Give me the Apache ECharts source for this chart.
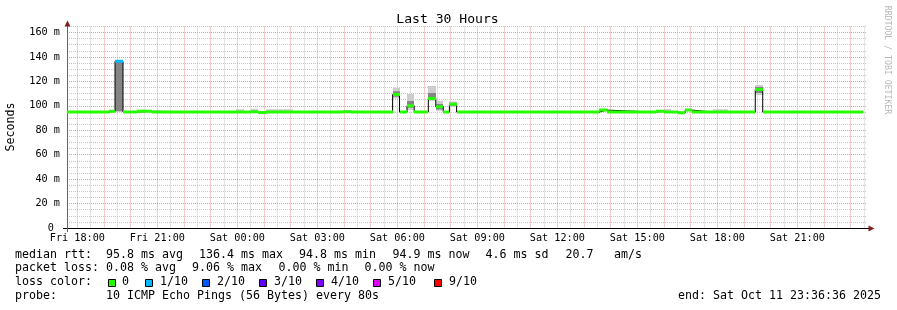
<!DOCTYPE html>
<html><head><meta charset="utf-8">
<script src="https://cdn.jsdelivr.net/npm/echarts@6/dist/echarts.min.js"></script>
<style>html,body{margin:0;padding:0;background:#fff}#c{width:897px;height:310px}</style>
</head><body><div id="c"></div>
<script>
// x values are hours since Fri 00:00
const axisStart = 17.61;   // Fri 17:36:36
const axisEnd = 47.61;     // Sat 23:36:36
const xLabelHours = [18, 21, 24, 27, 30, 33, 36, 39, 42, 45];
const yMax = 165;

// median RTT step segments (ms)
const segStart = [17.61, 19.185, 19.41, 19.71, 20.235, 20.80, 23.95, 24.25, 24.51, 24.77, 25.07, 26.085, 27.96, 28.26,
  29.82, 30.08, 30.36, 30.63, 31.16, 31.44, 31.72, 31.95, 32.22, 37.57, 37.85, 39.70, 40.00, 40.26, 40.52, 40.79,
  41.04, 41.835, 42.40, 43.42, 43.70];
const dataEnd = 47.46;
const median = [94.9, 95.5, 136.4, 94.9, 95.5, 94.9, 94.9, 94.9, 95.1, 94.6, 94.9, 94.9, 95.2, 94.9,
  109.3, 94.9, 100.1, 94.9, 106.0, 99.3, 94.9, 101.2, 94.9, 96.5, 94.9, 95.6, 94.9, 94.9, 94.4, 96.5,
  94.9, 94.9, 94.9, 113.4, 94.9];
const lossCount = [0, 0, 1, 0, 0, 0, 0, 0, 0, 0, 0, 0, 0, 0,
  0, 0, 0, 0, 0, 0, 0, 0, 0, 0, 0, 0, 0, 0, 0, 0,
  0, 0, 0, 0, 0];
// smoke (spread of the individual pings)
const smokeLo = [94.5, 95.0, 95.2, 94.5, 95.0, 94.5, 94.5, 94.5, 94.7, 94.3, 94.5, 94.5, 94.8, 94.5,
  106.0, 94.5, 96.5, 94.5, 104.0, 96.0, 94.5, 99.0, 94.5, 95.8, 94.5, 95.2, 94.5, 94.5, 94.1, 95.8,
  94.5, 94.5, 94.5, 108.9, 94.5];
const smokeHi = [95.3, 95.9, 137.0, 95.3, 95.9, 95.3, 97.2, 95.3, 97.6, 95.0, 97.1, 95.3, 96.6, 95.3,
  114.8, 95.3, 109.7, 95.3, 116.2, 104.2, 95.3, 103.6, 95.3, 97.0, 95.3, 96.0, 97.4, 95.3, 94.8, 97.6,
  95.3, 97.1, 95.3, 117.0, 95.3];
const coreLo = [null, null, 95.6, null, null, null, null, null, null, null, null, null, null, null,
  107.5, null, 98.5, null, 104.8, 97.0, null, 100.0, null, null, null, null, null, null, null, null,
  null, null, null, 110.5, null];
const coreHi = [null, null, 136.4, null, null, null, null, null, null, null, null, null, null, null,
  112.0, null, 104.0, null, 110.5, 101.5, null, 102.5, null, null, null, null, null, null, null, null,
  null, null, null, 115.5, null];

const lossColors = {0: '#26ff00', 1: '#00b8ff', 2: '#0059ff', 3: '#5e00ff', 4: '#7e00ff', 5: '#dd00ff', 9: '#ff0000'};
const lossLegend = ['0', '1/10', '2/10', '3/10', '4/10', '5/10', '9/10'];
const lossLegendKeys = [0, 1, 2, 3, 4, 5, 9];

const mono = '"DejaVu Sans Mono", monospace';
const segEnd = i => (i + 1 < segStart.length ? segStart[i + 1] : dataEnd);

const smokeData = segStart.map((t, i) => [t, segEnd(i), smokeLo[i], smokeHi[i], coreLo[i], coreHi[i]]);
const medData = segStart.map((t, i) => [t, segEnd(i), median[i], lossCount[i]]);
const stepData = segStart.map((t, i) => [t, median[i]]).concat([[dataEnd, median[median.length - 1]]]);

const vGrid = [];
for (let h = 18; h < axisEnd; h += 0.5) vGrid.push([h, 0, h % 1 === 0 ? 1 : 0]);

function dayLabel(h) {
  const d = h < 24 ? 'Fri' : 'Sat';
  const hh = Math.round(h % 24);
  return d + ' ' + (hh < 10 ? '0' : '') + hh + ':00';
}

function txt(str, x, y, size, o) {
  o = o || {};
  return {type: 'text', x: x, y: y, rotation: o.rot || 0, silent: true, z: 100,
    style: {text: str, fontFamily: mono, fontSize: size, fill: o.fill || '#000',
      align: o.align || 'left', verticalAlign: 'middle'}};
}

const LS = 11.63;
const graphics = [
  txt('Last 30 Hours', 447.5, 19.5, 13.1, {align: 'center'}),
  txt('Seconds', 11, 127, 11.63, {align: 'center', rot: Math.PI / 2}),
  txt('RRDTOOL / TOBI OETIKER', 887.5, 60, 8.2, {align: 'center', rot: -Math.PI / 2, fill: '#b8b8b8'}),
  // row 1
  txt('median rtt:', 15, 254.5, LS),
  txt('95.8 ms avg', 106, 254.5, LS),
  txt('136.4 ms max', 199, 254.5, LS),
  txt('94.8 ms min', 299, 254.5, LS),
  txt('94.9 ms now', 392.5, 254.5, LS),
  txt('4.6 ms sd', 485.5, 254.5, LS),
  txt('20.7', 565.5, 254.5, LS),
  txt('am/s', 614, 254.5, LS),
  // row 2
  txt('packet loss:', 15, 268.3, LS),
  txt('0.08 % avg', 106, 268.3, LS),
  txt('9.06 % max', 192, 268.3, LS),
  txt('0.00 % min', 278.5, 268.3, LS),
  txt('0.00 % now', 364.5, 268.3, LS),
  // row 3
  txt('loss color:', 15, 282.3, LS),
  // row 4
  txt('probe:', 15, 296.2, LS),
  txt('10 ICMP Echo Pings (56 Bytes) every 80s', 106, 296.2, LS),
  txt('end: Sat Oct 11 23:36:36 2025', 881, 296.2, LS, {align: 'right'}),
  // axis arrows / extensions
  {type: 'line', silent: true, z: 50, shape: {x1: 67.5, y1: 228, x2: 67.5, y2: 232}, style: {stroke: '#666', lineWidth: 1}},
  {type: 'line', silent: true, z: 50, shape: {x1: 63, y1: 228.5, x2: 67, y2: 228.5}, style: {stroke: '#000', lineWidth: 1}},
  {type: 'line', silent: true, z: 50, shape: {x1: 867, y1: 228.5, x2: 869, y2: 228.5}, style: {stroke: '#000', lineWidth: 1}},
  {type: 'polygon', silent: true, z: 60, shape: {points: [[67.5, 20.5], [64.5, 26.5], [70.5, 26.5]]}, style: {fill: '#801f1f'}},
  {type: 'polygon', silent: true, z: 60, shape: {points: [[874.5, 228.5], [868.5, 225.5], [868.5, 231.5]]}, style: {fill: '#801f1f'}}
];
const boxX = [108.5, 145.5, 202.5, 259.5, 316.5, 373.5, 434.5];
lossLegendKeys.forEach((k, i) => {
  graphics.push({type: 'rect', silent: true, z: 100, shape: {x: boxX[i], y: 279.5, width: 7, height: 7},
    style: {fill: lossColors[k], stroke: '#000', lineWidth: 1}});
  graphics.push(txt(lossLegend[i], boxX[i] + (i === 0 ? 13.5 : 14.5), 282.3, LS));
});

const pink = '#eb9a9a', gray = '#c8c8c8';
const chart = echarts.init(document.getElementById('c'), null, {renderer: 'canvas'});
chart.setOption({
  animation: false,
  backgroundColor: '#fff',
  grid: {left: 67, top: 26.4, width: 800, height: 201.6, containLabel: false},
  xAxis: {
    type: 'value', min: axisStart, max: axisEnd,
    axisLine: {show: true, lineStyle: {color: '#000', width: 1}},
    axisTick: {show: false},
    splitLine: {show: false},
    axisLabel: {customValues: xLabelHours, formatter: v => dayLabel(v), fontFamily: mono, fontSize: 10.2, color: '#000', margin: 5}
  },
  yAxis: {
    type: 'value', min: 0, max: yMax, interval: 5,
    axisLine: {show: true, lineStyle: {color: '#666', width: 1}},
    axisTick: {show: false},
    splitLine: {show: true, lineStyle: {color: [pink, gray, gray, gray], type: [1, 1], width: 1}},
    axisLabel: {formatter: v => (v % 20 === 0 ? (v === 0 ? '0 ' : v + ' m') : ''), fontFamily: mono, fontSize: 10.2, color: '#000', margin: 7}
  },
  graphic: graphics,
  series: [
    {
      type: 'custom', name: 'vgrid', z: 1, silent: true, data: vGrid, encode: {x: 0, y: 1},
      renderItem: (params, api) => {
        const x = Math.floor(api.coord([api.value(0), 0])[0]) + 0.5;
        const cs = params.coordSys;
        return {type: 'line', shape: {x1: x, y1: cs.y, x2: x, y2: cs.y + cs.height},
          style: {stroke: api.value(2) ? pink : gray, lineWidth: 1, lineDash: [1, 1]}};
      }
    },
    {
      type: 'custom', name: 'smoke', z: 3, silent: true, clip: true, data: smokeData, encode: {x: [0, 1], y: [2, 3]},
      renderItem: (params, api) => {
        const i = params.dataIndex;
        const children = [];
        const a = api.coord([api.value(0), api.value(3)]);
        const b = api.coord([api.value(1), api.value(2)]);
        const x0 = Math.round(a[0]), x1 = Math.round(b[0]);
        children.push({type: 'rect', shape: {x: x0, y: a[1], width: x1 - x0, height: b[1] - a[1]}, style: {fill: '#cdcdcd'}});
        if (coreLo[i] != null) {
          const c = api.coord([api.value(0), coreHi[i]]);
          const d = api.coord([api.value(1), coreLo[i]]);
          children.push({type: 'rect', shape: {x: x0, y: c[1], width: x1 - x0, height: d[1] - c[1]}, style: {fill: '#858585'}});
        }
        return {type: 'group', children: children};
      }
    },
    {
      type: 'line', name: 'median-outline', z: 4, silent: true, step: 'end', symbol: 'none', data: stepData,
      lineStyle: {color: '#000', width: 1}
    },
    {
      type: 'custom', name: 'median', z: 5, silent: true, clip: true, data: medData, encode: {x: [0, 1], y: 2},
      renderItem: (params, api) => {
        const a = api.coord([api.value(0), api.value(2)]);
        const b = api.coord([api.value(1), api.value(2)]);
        const x0 = Math.round(a[0]), x1 = Math.round(b[0]);
        return {type: 'rect', shape: {x: x0, y: a[1] - 1.5, width: x1 - x0, height: 3},
          style: {fill: lossColors[api.value(3)]}};
      }
    }
  ]
});
</script>
</body></html>
